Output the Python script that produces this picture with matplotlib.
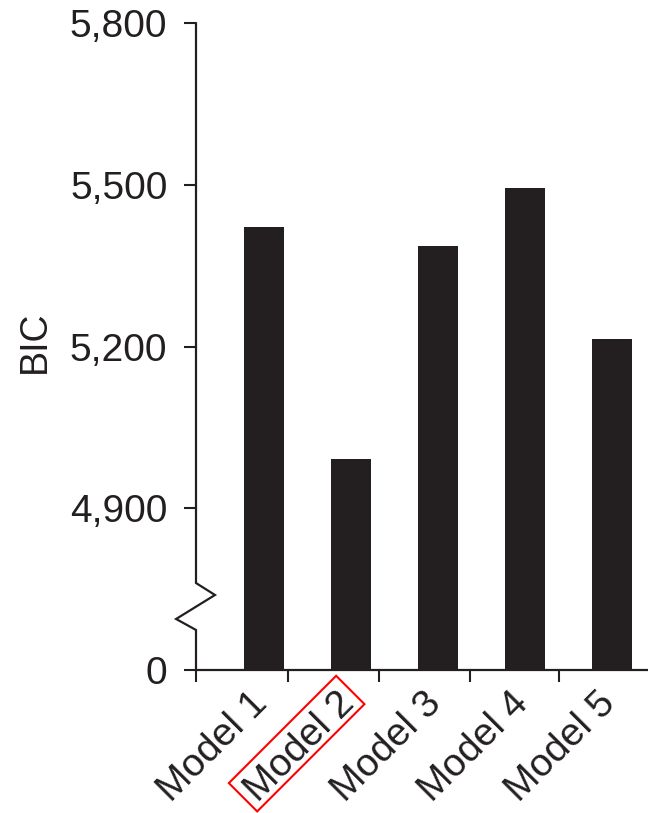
import matplotlib
matplotlib.use("Agg")
import matplotlib.pyplot as plt
import numpy as np
from matplotlib.lines import Line2D
from matplotlib.path import Path
from matplotlib.ticker import FixedLocator, StrMethodFormatter
from matplotlib.transforms import ScaledTranslation

plt.rcParams["font.family"] = ["Liberation Sans", "DejaVu Sans"]

models = ["Model 1", "Model 2", "Model 3", "Model 4", "Model 5"]
bic = [5422, 4992, 5386, 5494, 5214]
yticks = [0, 4900, 5200, 5500, 5800]
highlight = "Model 2"

INK = "#231f20"
# 0..4900 is squeezed into the 4600..4900 band below the axis break
BREAK_LO, BREAK_HI = 4600, 4900


def _fwd(y):
    y = np.asarray(y, dtype=float)
    return np.where(y >= BREAK_HI, y, BREAK_LO + y * (BREAK_HI - BREAK_LO) / BREAK_HI)


def _inv(t):
    t = np.asarray(t, dtype=float)
    return np.where(t >= BREAK_HI, t, (t - BREAK_LO) * BREAK_HI / (BREAK_HI - BREAK_LO))


def _tight_box(x0, y0, width, height, mutation_size):
    # snug frame around the cap height of a label, wider than tall
    padx = 0.17 * mutation_size
    b = y0 + 0.055 * mutation_size
    t = b + 1.03 * mutation_size
    l, r = x0 - padx, x0 + width + padx
    return Path([(l, b), (r, b), (r, t), (l, t), (l, b)], closed=True)


W, H = 648, 813
fig = plt.figure(figsize=(W / 100, H / 100), dpi=100)
ax = fig.add_axes([196 / W, 1 - 670 / H, (W - 196) / W, (670 - 23.3) / H])

x = np.arange(len(models))
ax.bar(x, bic, width=0.46, color=INK, edgecolor="none", zorder=2)

ax.set_yscale("function", functions=(_fwd, _inv))
ax.set_ylim(0, 5800)
ax.set_xlim(-0.773, 4.417)

ax.yaxis.set_major_locator(FixedLocator(yticks))
ax.yaxis.set_major_formatter(StrMethodFormatter("{x:,.0f}"))
ax.tick_params(axis="y", length=8.6, width=1.5, pad=12, labelsize=28,
               color=INK, labelcolor=INK)

# category labels, separator ticks between groups
ax.set_xticks(x, models, rotation=45, ha="right", rotation_mode="anchor")
ax.set_xticks([-0.784, 0.269, 1.320, 2.365, 3.398], minor=True)
ax.tick_params(axis="x", which="major", length=0, pad=10.7, labelsize=28,
               labelcolor=INK)
ax.tick_params(axis="x", which="minor", length=8.6, width=1.5, color=INK)
shift = ScaledTranslation(-0.152, 0, fig.dpi_scale_trans)
for lab in ax.get_xticklabels():
    lab.set_transform(lab.get_transform() + shift)
    if lab.get_text() == highlight:
        lab.set_bbox(dict(boxstyle=_tight_box, fc="none", ec="red", lw=1.5))

for side in ("top", "right", "left"):
    ax.spines[side].set_visible(False)
ax.spines["bottom"].set_linewidth(1.6)
ax.spines["bottom"].set_color(INK)

# y axis drawn by hand so it can carry the zigzag break
ax.add_line(Line2D([0, 0, 0.042, -0.044, 0, 0],
                   [1, 0.1345, 0.116, 0.0789, 0.0619, 0],
                   transform=ax.transAxes, clip_on=False, color=INK,
                   lw=1.6, solid_joinstyle="miter"))

fig.text(34.5 / W, 1 - 341.5 / H, "BIC", rotation=90, ha="center",
         va="center", fontsize=27, color=INK)

fig.savefig("out.png", dpi=100)
